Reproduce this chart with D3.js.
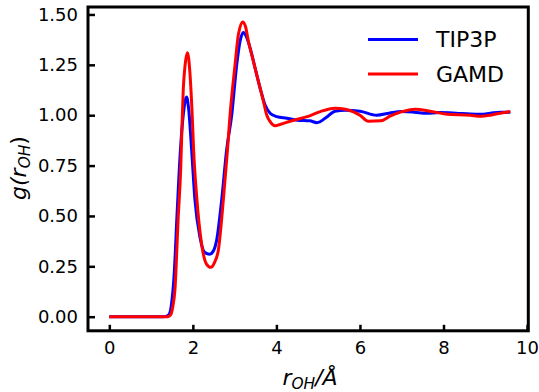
<!DOCTYPE html>
<html><head><meta charset="utf-8">
<script src="https://cdn.jsdelivr.net/npm/d3@7"></script>
<style>
body{margin:0;background:#fff;}
text{font-family:"DejaVu Sans",sans-serif;}
</style></head>
<body><svg id="c" width="539" height="392"></svg>
<script>
const xTicks=[0,2,4,6,8,10];
const yTicks=[0,0.25,0.5,0.75,1.0,1.25,1.5];
const seriesNames=["TIP3P","GAMD"];
const seriesColors=["#0000ff","#ff0000"];
const rTIP3P=[0,0.5,1.0,1.3,1.40,1.45,1.49,1.55,1.62,1.70,1.77,1.85,1.90,1.97,2.05,2.17,2.28,2.40,2.50,2.57,2.69,2.81,2.93,3.05,3.13,3.21,3.28,3.37,3.49,3.61,3.73,3.85,4.01,4.25,4.5,4.8,4.97,5.2,5.4,5.65,6.0,6.4,6.7,7.0,7.3,7.6,7.9,8.3,8.64,8.9,9.12,9.36,9.6];
const gTIP3P=[0,0,0,0,0.005,0.02,0.065,0.2,0.5,0.82,1.0,1.09,1.03,0.83,0.58,0.395,0.32,0.31,0.33,0.38,0.58,0.83,1.00,1.25,1.367,1.41,1.39,1.334,1.234,1.135,1.05,1.01,0.993,0.985,0.975,0.972,0.963,0.99,1.02,1.025,1.02,1.0,1.01,1.018,1.015,1.01,1.013,1.01,1.006,1.005,1.01,1.015,1.015];
const rGAMD=[0,1.0,1.4,1.47,1.52,1.57,1.65,1.71,1.73,1.77,1.81,1.87,1.93,1.98,2.02,2.09,2.21,2.33,2.43,2.52,2.61,2.73,2.83,2.89,3.01,3.09,3.195,3.26,3.33,3.45,3.57,3.69,3.77,3.85,3.97,4.1,4.33,4.6,4.8,5.05,5.4,5.65,6.0,6.2,6.5,6.72,6.97,7.32,7.68,8.04,8.64,8.9,9.12,9.36,9.6];
const gGAMD=[0,0,0,0.01,0.05,0.13,0.495,0.74,0.877,1.126,1.24,1.31,1.21,1.02,0.82,0.6,0.36,0.26,0.245,0.27,0.33,0.58,0.83,1.0,1.25,1.40,1.463,1.44,1.367,1.267,1.167,1.068,1.0,0.968,0.948,0.955,0.97,0.985,0.997,1.018,1.035,1.03,1.0,0.97,0.972,0.995,1.015,1.03,1.02,1.006,1.0,0.995,1.0,1.01,1.018];

const svg=d3.select("#c");
const L=88,R=528.3,T=7,B=330.8;
const x=d3.scaleLinear().domain([-0.51,10.03]).range([L,R]);
const y=d3.scaleLinear().domain([-0.07,1.537]).range([B,T]);

const line=d3.line().x(d=>x(d[0])).y(d=>y(d[1])).curve(d3.curveMonotoneX);
const data=[d3.zip(rTIP3P,gTIP3P),d3.zip(rGAMD,gGAMD)];
data.forEach((d,i)=>{
  svg.append("path").datum(d).attr("d",line).attr("fill","none")
    .attr("stroke",seriesColors[i]).attr("stroke-width",3).attr("stroke-linejoin","round");
});

// frame
svg.append("rect").attr("x",L).attr("y",T).attr("width",R-L).attr("height",B-T)
  .attr("fill","none").attr("stroke","#000").attr("stroke-width",3);

// x axis ticks
const xa=d3.axisBottom(x).tickValues(xTicks).tickFormat(d3.format("d")).tickSizeInner(-6).tickSizeOuter(0).tickPadding(10);
const gx=svg.append("g").attr("transform",`translate(0,${B})`).call(xa);
gx.select(".domain").remove();
gx.selectAll(".tick line").attr("stroke","#000").attr("stroke-width",2.5);
gx.selectAll(".tick text").attr("font-size",18).attr("fill","#000").attr("font-family","DejaVu Sans").attr("dy","0.71em");

const ya=d3.axisLeft(y).tickValues(yTicks).tickFormat(d3.format(".2f")).tickSizeInner(-7).tickSizeOuter(0).tickPadding(10);
const gy=svg.append("g").attr("transform",`translate(${L},0)`).call(ya);
gy.select(".domain").remove();
gy.selectAll(".tick line").attr("stroke","#000").attr("stroke-width",2.5);
gy.selectAll(".tick text").attr("font-size",18).attr("fill","#000").attr("font-family","DejaVu Sans");

// axis titles
const xt=svg.append("text").attr("x",310).attr("y",385).attr("text-anchor","middle")
  .attr("font-size",22).attr("font-style","italic");
xt.append("tspan").text("r");
xt.append("tspan").attr("font-size",15.4).attr("dy",4).text("OH");
xt.append("tspan").attr("dy",-4).text("/Å");

const yt=svg.append("text").attr("transform","translate(26,168) rotate(-90)").attr("text-anchor","middle")
  .attr("font-size",22).attr("font-style","italic");
yt.append("tspan").text("g(r");
yt.append("tspan").attr("font-size",15.4).attr("dy",4).text("OH");
yt.append("tspan").attr("dy",-4).attr("font-style","normal").text(")");

// legend
const legY=[39.5,74];
seriesNames.forEach((n,i)=>{
  svg.append("line").attr("x1",368).attr("x2",418).attr("y1",legY[i]).attr("y2",legY[i])
    .attr("stroke",seriesColors[i]).attr("stroke-width",3);
  svg.append("text").attr("x",436).attr("y",legY[i]).attr("dy","0.36em")
    .attr("font-size",22).attr("fill","#000").text(n);
});
</script></body></html>
